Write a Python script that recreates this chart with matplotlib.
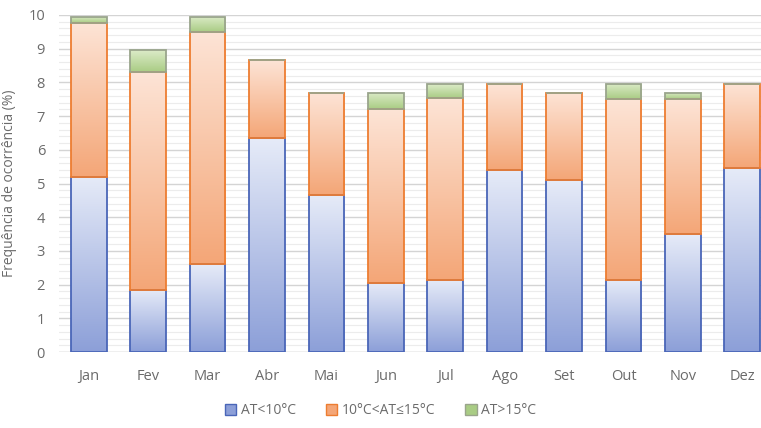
import numpy as np
import matplotlib.pyplot as plt
from matplotlib.colors import LinearSegmentedColormap
from matplotlib.patches import Patch

months = ['Jan', 'Fev', 'Mar', 'Abr', 'Mai', 'Jun', 'Jul', 'Ago', 'Set', 'Out', 'Nov', 'Dez']
at_lt10 = [5.2, 1.85, 2.6, 6.35, 4.65, 2.05, 2.15, 5.4, 5.1, 2.15, 3.5, 5.45]
at_10_15 = [4.55, 6.45, 6.9, 2.3, 3.05, 5.15, 5.4, 2.55, 2.6, 5.35, 4.0, 2.5]
at_gt15 = [0.2, 0.65, 0.45, 0.0, 0.0, 0.5, 0.4, 0.0, 0.0, 0.45, 0.2, 0.0]
labels = ['AT<10°C', '10°C<AT≤15°C', 'AT>15°C']

plt.rcParams['font.family'] = ['Open Sans', 'DejaVu Sans']
fig = plt.figure(figsize=(7.61, 4.28), dpi=100)
ax = fig.add_axes([59 / 761, 1 - 352 / 428, 713 / 761, 337 / 428])

x = np.arange(len(months))
w = 0.6
bottoms2 = np.array(at_lt10)
bottoms3 = bottoms2 + np.array(at_10_15)

# (top colour, bottom colour, edge colour)
styles = [('#e6ebf8', '#8c9fd8', '#4a66b8'),
          ('#fde4d6', '#f4a677', '#ed7d31'),
          ('#dcebc8', '#a9cc84', '#9aa58c')]

grad = np.linspace(0, 1, 256).reshape(-1, 1)
series = [(at_lt10, 0), (at_10_15, bottoms2), (at_gt15, bottoms3)]
for (vals, bot), (ctop, cbot, cedge) in zip(series, styles):
    cmap = LinearSegmentedColormap.from_list('g', [ctop, cbot])
    bars = ax.bar(x, vals, w, bottom=bot, facecolor='none', edgecolor=cedge, linewidth=1.3, zorder=3)
    for b in bars:
        if b.get_height() <= 0:
            continue
        bx, by = b.get_x(), b.get_y()
        im = ax.imshow(grad, cmap=cmap, aspect='auto', zorder=2,
                       extent=[bx, bx + b.get_width(), by, by + b.get_height()], origin='upper')
        im.set_clip_path(b)

ax.set_xlim(-0.5, 11.5)
ax.set_ylim(0, 10)
ax.set_yticks(range(0, 11))
ax.set_yticks(np.arange(0, 10, 0.2), minor=True)
ax.grid(axis='y', which='major', color='#d4d4d4', linewidth=1, zorder=0)
ax.grid(axis='y', which='minor', color='#ececec', linewidth=0.8, zorder=0)
ax.set_xticks(x)
ax.set_xticklabels(months)
ax.tick_params(axis='both', which='both', length=0, colors='#6b6b6b', labelsize=10.5)
ax.tick_params(axis='x', pad=12)
ax.tick_params(axis='y', pad=10)
for s in ax.spines.values():
    s.set_visible(False)
ax.axhline(0, color='#d4d4d4', linewidth=1, zorder=1)
ax.set_ylabel('Frequência de ocorrência (%)', color='#6b6b6b', fontsize=10, labelpad=8)

handles = [Patch(facecolor=c[1], edgecolor=c[2], label=l) for c, l in zip(styles, labels)]
fig.legend(handles=handles, loc='center', bbox_to_anchor=(0.5, 1 - 411 / 428), ncol=3,
           frameon=False, fontsize=10, labelcolor='#6b6b6b', handlelength=0.8, handleheight=0.8,
           handletextpad=0.3, columnspacing=2.2)

fig.savefig('out.png', dpi=100)
